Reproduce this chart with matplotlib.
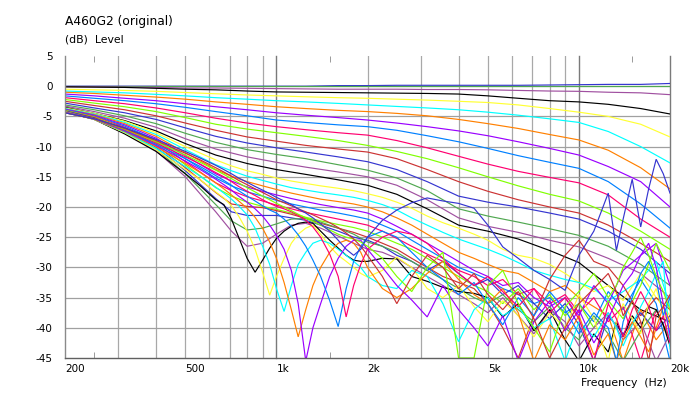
import matplotlib
matplotlib.use("Agg")
import matplotlib.pyplot as plt

# ---------------- data ----------------
freq_upper = [200, 250, 315, 400, 500, 630, 800, 1000, 1250, 1600, 2000, 2500, 3150,
              4000, 5000, 6300, 8000, 10000, 12500, 16000, 20000]
freq_mid = [200, 250, 315, 400, 500, 630, 710, 800, 900, 1000, 1120, 1250, 1400, 1600,
            1800, 2000, 2240, 2500, 2800, 3150, 3550, 4000, 4500, 5000, 5600, 6300, 7100,
            8000, 9000, 10000, 11200, 12500, 14000, 16000, 18000, 20000]
freq_rear = [200, 250, 315, 400, 500, 560, 630, 670, 710, 750,
             800, 850, 900, 950, 1000, 1060, 1120, 1180, 1250, 1320,
             1400, 1500, 1600, 1700, 1800, 1900, 2000, 2240, 2500, 2800,
             3150, 3550, 4000, 4500, 5000, 5600, 6300, 7100, 8000, 9000,
             10000, 11200, 12500, 13300, 14000, 15000, 16000, 17000, 18000, 19000,
             20000]

level_00 = [0, 0, 0, 0, 0, 0, 0, 0, 0, 0.1, 0.1, 0.15, 0.15, 0.15, 0.15, 0.15, 0.2, 0.25, 0.3, 0.3, 0.45]
level_01 = [0, 0, 0, 0, 0, 0, 0, 0, 0, 0, 0, 0, 0, 0, 0, 0, 0, 0, 0, 0, 0]
level_02 = [-0.1, -0.1, -0.15, -0.2, -0.3, -0.3, -0.35, -0.4, -0.45, -0.5, -0.5, -0.5, -0.55, -0.55, -0.6, -0.7, -0.8, -0.85, -1.0, -1.1, -1.4]
level_03 = [-0.1, -0.15, -0.2, -0.35, -0.5, -0.6, -0.8, -0.95, -1.0, -1.05, -1.1, -1.15, -1.2, -1.3, -1.6, -2.0, -2.4, -2.6, -3.0, -3.7, -4.6]
level_04 = [-0.5, -0.6, -0.7, -0.85, -1.05, -1.25, -1.45, -1.6, -1.75, -1.9, -2.0, -2.15, -2.3, -2.5, -2.7, -3.1, -3.7, -4.3, -5.0, -6.3, -8.4]
level_05 = [-0.8, -0.95, -1.1, -1.35, -1.6, -1.9, -2.15, -2.4, -2.6, -2.85, -3.1, -3.35, -3.6, -3.9, -4.3, -4.8, -5.4, -6.0, -7.5, -10.0, -12.7]
level_06 = [-1.0, -1.2, -1.5, -1.8, -2.15, -2.6, -3.0, -3.4, -3.7, -4.0, -4.2, -4.5, -4.9, -5.5, -6.2, -7.0, -8.0, -8.9, -10.6, -13.5, -17.0]
level_07 = [-1.3, -1.6, -2.0, -2.4, -2.9, -3.4, -3.9, -4.4, -4.8, -5.2, -5.6, -6.1, -6.7, -7.4, -8.2, -9.2, -10.3, -11.4, -13.3, -15.8, -20.0]
level_08 = [-1.6, -2.0, -2.4, -2.9, -3.5, -4.2, -4.9, -5.6, -6.0, -6.4, -6.7, -7.3, -8.2, -9.2, -10.3, -11.5, -12.6, -13.6, -15.8, -19.5, -23.5]
level_09 = [-1.9, -2.4, -2.9, -3.6, -4.4, -5.3, -6.1, -6.7, -7.2, -7.7, -8.1, -9.0, -10.2, -11.6, -12.9, -14.1, -15.1, -16.0, -18.0, -22.0, -25.0]
level_10 = [-2.2, -2.8, -3.4, -4.2, -5.2, -6.3, -7.1, -7.7, -8.3, -9.0, -9.8, -10.8, -12.0, -13.5, -15.0, -16.5, -17.9, -19.0, -21.0, -24.0, -27.0]
level_11 = [-2.5, -3.2, -3.9, -4.9, -6.1, -7.3, -8.4, -9.1, -9.8, -10.4, -10.9, -12.0, -13.8, -15.8, -17.4, -18.8, -20.0, -21.0, -23.0, -26.0, -29.0]
level_12 = [-2.8, -3.6, -4.4, -5.5, -6.9, -8.3, -9.4, -10.2, -10.9, -11.7, -12.5, -13.8, -15.8, -18.2, -19.2, -20.0, -21.0, -22.0, -24.0, -27.0, -31.0]
level_13 = [-3.1, -3.9, -4.9, -6.2, -7.8, -9.3, -10.5, -11.3, -12.0, -13.0, -13.9, -15.2, -17.3, -20.3, -21.5, -22.5, -23.6, -24.7, -26.5, -29.5, -33.0]
level_14 = [-3.3, -4.2, -5.3, -6.8, -8.7, -10.4, -11.7, -12.6, -13.4, -14.2, -15.0, -16.4, -18.8, -21.8, -23.2, -24.2, -25.5, -26.6, -28.5, -31.0, -35.0]
level_15 = [-3.5, -4.5, -5.7, -7.4, -9.5, -11.4, -12.8, -13.8, -14.6, -15.5, -16.4, -17.9, -20.3, -23.0, -24.0, -25.3, -27.2, -29.2, -33.0, -37.0, -39.0]

level_16 = [-3.6, -4.5, -5.8, -7.7, -10.0, -12.2, -13.2, -14.0, -14.6, -15.2, -15.7, -16.1, -16.5, -16.9, -17.3, -17.8, -18.4, -19.2, -20.2, -21.5, -22.6, -23.5, -24.5, -25.5, -27.0, -28.0, -28.5, -29.5, -31.0, -32.5, -34.0, -33.0, -35.5, -31.0, -35.0, -38.0]
level_17 = [-3.7, -4.6, -6.0, -8.0, -10.5, -13.0, -14.0, -14.9, -15.6, -16.2, -16.8, -17.2, -17.6, -18.0, -18.4, -18.9, -19.6, -20.5, -21.8, -23.0, -24.2, -25.3, -26.2, -27.0, -28.0, -29.2, -30.5, -31.3, -32.0, -32.5, -33.5, -35.5, -34.0, -32.0, -29.0, -36.5]
level_18 = [-3.8, -4.7, -6.2, -8.3, -11.0, -13.8, -14.9, -15.8, -16.5, -17.1, -17.7, -18.2, -18.7, -19.1, -19.5, -20.0, -20.8, -21.8, -23.0, -24.5, -26.0, -27.5, -28.5, -29.5, -30.5, -31.0, -32.5, -34.0, -33.0, -35.0, -36.5, -38.0, -45.5, -37.0, -42.0, -39.0]
level_19 = [-3.8, -4.8, -6.4, -8.6, -11.5, -14.5, -15.7, -16.7, -17.4, -18.0, -18.6, -19.1, -19.6, -20.1, -20.5, -21.0, -22.0, -23.2, -24.5, -26.0, -27.5, -29.0, -30.5, -31.5, -33.0, -32.5, -35.0, -36.5, -35.0, -38.0, -33.0, -36.0, -30.5, -28.0, -26.0, -33.0]
level_20 = [-3.9, -4.9, -6.6, -8.9, -12.0, -15.2, -16.5, -17.5, -18.2, -18.9, -19.5, -20.0, -20.5, -21.0, -21.5, -22.0, -23.0, -24.0, -25.5, -27.0, -28.5, -30.0, -31.0, -32.0, -33.5, -34.5, -36.0, -35.0, -37.5, -36.0, -39.0, -34.0, -37.0, -32.0, -36.0, -45.5]
level_21 = [-4.0, -5.0, -6.8, -9.2, -12.5, -16.0, -17.3, -18.3, -19.0, -19.7, -20.3, -20.9, -21.4, -22.0, -22.5, -23.0, -24.0, -25.2, -26.5, -27.8, -29.0, -30.5, -31.5, -33.0, -32.0, -34.5, -33.5, -36.0, -34.5, -37.5, -35.0, -39.0, -36.5, -45.5, -37.0, -42.0]
level_22 = [-4.0, -5.1, -7.0, -9.5, -13.0, -16.8, -18.2, -19.2, -19.9, -20.4, -21.0, -21.7, -22.3, -22.9, -23.4, -24.0, -25.0, -26.0, -27.0, -28.5, -30.0, -31.5, -33.0, -34.0, -36.0, -33.5, -37.0, -34.5, -38.0, -36.0, -40.0, -35.5, -38.5, -33.0, -26.0, -30.5]
level_23 = [-4.1, -5.2, -7.2, -9.8, -13.5, -17.6, -19.5, -19.9, -20.1, -20.6, -21.2, -21.9, -22.7, -23.5, -24.2, -25.0, -26.0, -27.0, -28.5, -30.0, -31.5, -32.5, -33.5, -36.0, -40.0, -45.0, -38.0, -32.0, -28.0, -25.5, -29.0, -30.0, -33.0, -38.0, -35.0, -37.0]
level_24 = [-4.1, -5.3, -7.4, -10.1, -14.0, -18.6, -20.8, -21.4, -21.4, -21.4, -21.8, -22.2, -23.0, -24.0, -25.0, -25.5, -26.5, -28.0, -29.0, -30.5, -29.0, -31.0, -33.0, -32.0, -34.5, -33.0, -36.0, -38.5, -36.0, -39.5, -45.5, -38.0, -41.0, -37.5, -40.5, -38.0]
level_25 = [-4.2, -5.4, -7.6, -10.4, -14.5, -19.6, -22.3, -23.8, -23.5, -22.8, -22.0, -21.9, -22.5, -23.5, -24.5, -25.8, -26.5, -27.5, -29.0, -30.5, -32.0, -33.5, -35.0, -36.0, -34.5, -37.0, -39.0, -36.5, -40.0, -42.0, -38.0, -41.0, -45.5, -40.5, -37.0, -42.0]
level_26 = [-4.2, -5.5, -7.8, -10.7, -15.0, -20.8, -24.0, -26.5, -26.0, -24.5, -23.0, -22.7, -23.5, -24.8, -26.0, -27.0, -27.5, -28.5, -30.0, -31.5, -33.0, -34.5, -36.0, -37.5, -35.0, -38.0, -41.0, -37.0, -39.0, -43.0, -40.0, -37.5, -42.0, -39.0, -45.5, -41.0]

level_27 = [-4.2, -5.5, -7.9, -10.8, -14.5, -16.5, -18.8, -19.6, -22.0, -25.0,
            -28.5, -30.8, -28.8, -26.8, -25.2, -24.0, -23.2, -22.7, -22.5, -22.7,
            -24.0, -25.5, -26.8, -28.0, -28.8, -29.0, -29.0, -28.5, -28.6, -31.5,
            -32.3, -33.3, -34.0, -34.3, -35.0, -38.2, -36.0, -40.5, -37.0, -42.0,
            -45.5, -41.0, -44.0, -39.0, -41.5, -38.0, -40.0, -36.5, -37.0, -39.5,
            -43.0]
level_28 = [-4.2, -5.5, -7.7, -10.5, -13.8, -15.5, -17.5, -18.5, -19.8, -21.5,
            -24.0, -27.0, -30.8, -34.6, -31.5, -28.5, -26.0, -24.5, -23.5, -23.0,
            -24.5, -26.5, -28.0, -29.0, -30.0, -31.0, -31.6, -30.5, -28.3, -30.0,
            -33.5, -35.0, -33.0, -36.5, -39.0, -35.5, -38.0, -41.5, -37.5, -40.0,
            -34.5, -38.5, -45.5, -39.0, -36.0, -38.5, -41.0, -36.0, -33.5, -37.5,
            -40.0]
level_29 = [-4.3, -5.5, -7.6, -10.3, -13.3, -14.9, -16.7, -17.7, -18.7, -19.8,
            -21.3, -23.5, -26.5, -29.5, -33.5, -37.3, -33.0, -29.5, -27.5, -26.0,
            -25.5, -26.0, -27.0, -28.0, -29.0, -30.0, -31.5, -33.0, -33.5, -30.5,
            -31.5, -36.0, -42.3, -37.0, -35.0, -38.0, -36.5, -40.0, -38.5, -45.5,
            -39.0, -41.5, -37.5, -40.0, -43.0, -39.5, -36.5, -34.0, -31.0, -29.0,
            -43.5]
level_30 = [-4.3, -5.5, -7.5, -10.0, -12.8, -14.3, -16.0, -17.0, -18.0, -19.0,
            -20.2, -21.7, -23.5, -25.8, -28.5, -32.5, -37.0, -41.5, -37.0, -33.0,
            -30.0, -27.5, -26.0, -25.5, -26.0, -27.5, -30.0, -33.5, -35.0, -33.5,
            -31.0, -29.0, -32.0, -34.5, -36.0, -33.5, -37.5, -45.5, -39.5, -42.0,
            -38.0, -44.5, -41.0, -45.5, -42.0, -39.0, -41.5, -44.0, -40.0, -36.5,
            -39.0]
level_31 = [-4.3, -5.4, -7.4, -9.8, -12.4, -13.8, -15.4, -16.3, -17.2, -18.2,
            -19.2, -20.3, -21.5, -23.0, -24.7, -27.0, -30.5, -36.0, -45.5, -40.0,
            -36.0, -31.5, -28.5, -26.5, -25.5, -25.5, -27.0, -30.0, -33.0, -35.4,
            -38.2, -33.0, -37.0, -40.0, -43.0, -38.0, -45.5, -39.0, -35.5, -40.5,
            -37.0, -42.5, -38.5, -35.5, -33.0, -31.0, -28.0, -26.0, -30.0, -36.0,
            -41.0]
level_32 = [-4.4, -5.4, -7.3, -9.6, -12.0, -13.3, -14.8, -15.6, -16.4, -17.3,
            -18.2, -19.0, -19.8, -20.5, -21.0, -22.0, -23.2, -24.6, -26.5, -28.8,
            -31.5, -35.5, -39.8, -33.5, -29.0, -26.5, -25.0, -24.0, -25.0, -27.5,
            -30.0, -32.0, -34.5, -32.5, -36.0, -39.5, -35.0, -38.0, -34.0, -37.0,
            -41.0, -37.5, -40.0, -45.5, -39.0, -35.0, -31.0, -29.0, -32.0, -38.0,
            -35.0]
level_33 = [-4.4, -5.4, -7.2, -9.4, -11.7, -12.9, -14.3, -15.0, -15.8, -16.6,
            -17.4, -18.1, -18.8, -19.4, -19.9, -20.3, -20.8, -21.4, -22.2, -23.3,
            -25.0, -27.8, -31.5, -38.2, -33.0, -29.5, -27.0, -25.0, -24.0, -24.5,
            -26.0, -28.5, -31.0, -33.0, -31.5, -34.0, -36.5, -33.5, -37.5, -35.0,
            -38.5, -45.5, -36.0, -38.5, -41.5, -37.0, -34.0, -36.5, -40.5, -38.0,
            -42.5]
level_34 = [-4.4, -5.4, -7.1, -9.2, -11.4, -12.6, -13.9, -14.6, -15.3, -16.0,
            -16.8, -17.5, -18.2, -18.8, -19.4, -20.0, -20.6, -21.2, -21.8, -22.4,
            -23.0, -23.8, -24.5, -25.0, -25.3, -25.8, -26.5, -28.5, -31.5, -34.0,
            -30.0, -27.5, -45.0, -45.0, -33.0, -30.5, -36.0, -40.0, -44.0, -36.5,
            -34.0, -31.0, -35.0, -33.0, -30.0, -27.5, -25.0, -28.0, -31.5, -34.0,
            -37.0]
level_35 = [-4.4, -5.4, -7.0, -9.0, -11.1, -12.2, -13.5, -14.2, -14.9, -15.6,
            -16.3, -17.0, -17.6, -18.2, -18.8, -19.3, -19.8, -20.3, -20.8, -21.3,
            -21.9, -22.6, -23.4, -24.3, -25.3, -26.5, -28.0, -31.5, -36.0, -31.5,
            -28.0, -30.0, -33.5, -31.0, -34.5, -37.0, -34.0, -38.5, -45.0, -40.0,
            -36.0, -33.5, -31.0, -34.0, -38.0, -35.5, -39.0, -45.5, -38.0, -36.5,
            -34.5]
level_36 = [-4.4, -5.4, -6.9, -8.8, -10.8, -11.9, -13.1, -13.8, -14.5, -15.2,
            -15.9, -16.6, -17.2, -17.8, -18.4, -19.0, -19.6, -20.3, -21.0, -21.8,
            -22.8, -24.0, -25.5, -27.0, -28.0, -27.0, -25.0, -22.2, -20.5, -19.3,
            -18.5, -19.0, -19.4, -20.2, -23.0, -26.6, -28.5, -30.5, -32.0, -33.8,
            -28.0, -24.0, -17.7, -27.2, -22.0, -15.4, -23.3, -17.0, -12.1, -14.5,
            -17.7]

line_colors = ["#3535D0", "#50A850", "#A050A0", "#000000", "#FFFF33", "#00FFFF",
               "#FF8000", "#9A00FF", "#0080FF", "#FF0070", "#80FF00", "#CC3333"]

y_ticks = [5, 0, -5, -10, -15, -20, -25, -30, -35, -40, -45]
y_tick_labels = ["5", "0", "-5", "-10", "-15", "-20", "-25", "-30", "-35", "-40", "-45"]
x_ticks = [200, 500, 1000, 2000, 5000, 10000, 20000]
x_tick_labels = ["200", "500", "1k", "2k", "5k", "10k", "20k"]
x_grid_minor = [300, 400, 500, 600, 700, 800, 900, 2000, 3000, 4000, 5000,
                6000, 7000, 8000, 9000]
x_grid_major = [1000, 10000, 20000]
x_small_ticks = [250, 1500, 15000]

upper = [level_00, level_01, level_02, level_03, level_04, level_05, level_06, level_07,
         level_08, level_09, level_10, level_11, level_12, level_13, level_14, level_15]
mid = [level_16, level_17, level_18, level_19, level_20, level_21, level_22, level_23,
       level_24, level_25, level_26]
rear = [level_27, level_28, level_29, level_30, level_31, level_32, level_33, level_34,
        level_35, level_36]

series = ([(freq_upper, s) for s in upper] + [(freq_mid, s) for s in mid]
          + [(freq_rear, s) for s in rear])

# ---------------- figure ----------------
plt.rcParams["font.family"] = ["DejaVu Sans"]
W, H = 693, 394
fig = plt.figure(figsize=(W / 100, H / 100), dpi=100)
fig.patch.set_facecolor("white")
ax = fig.add_axes([65 / W, 1 - 358 / H, 605 / W, 302 / H])
ax.set_xscale("log")
ax.set_xlim(200, 20000)
ax.set_ylim(-45, 5)

for f in x_grid_minor:
    ax.axvline(f, color="#A8A8A8", lw=0.9, zorder=0)
for f in x_grid_major:
    ax.axvline(f, color="#7A7A7A", lw=1.0, zorder=0, clip_on=False)
for yv in y_ticks[1:-1]:
    ax.axhline(yv, color="#A0A0A0", lw=0.9, zorder=0)

for i, (fr, lv) in enumerate(series):
    ax.plot(fr, lv, color=line_colors[i % 12], lw=0.85, zorder=2,
            solid_joinstyle="miter")

for sp in ["top", "right"]:
    ax.spines[sp].set_visible(False)
ax.spines["left"].set_color("#8A8A8A")
ax.spines["bottom"].set_color("#606060")
ax.spines["left"].set_linewidth(1.0)
ax.spines["bottom"].set_linewidth(1.0)

ax.set_yticks(y_ticks)
ax.set_yticklabels(y_tick_labels, fontsize=7.5)
ax.tick_params(axis="y", length=0, pad=9)
ax.set_xticks(x_ticks)
ax.set_xticklabels(x_tick_labels, fontsize=7.5)
ax.set_xticks(x_small_ticks, minor=True)
ax.tick_params(axis="x", which="major", length=0, pad=4)
ax.tick_params(axis="x", which="minor", length=4, direction="in", top=True,
               bottom=True, color="#8A8A8A", labelbottom=False)
for lab in ax.get_xticklabels():
    lab.set_horizontalalignment("left")

fig.text(65 / W, 1 - 22 / H, "A460G2 (original)", fontsize=8.8, va="center", ha="left")
fig.text(65 / W, 1 - 40 / H, "(dB)  Level", fontsize=7.8, va="center", ha="left")
fig.text(667 / W, 1 - 383 / H, "Frequency  (Hz)", fontsize=7.8, va="center", ha="right")

fig.savefig("out.png", dpi=100, facecolor="white")
